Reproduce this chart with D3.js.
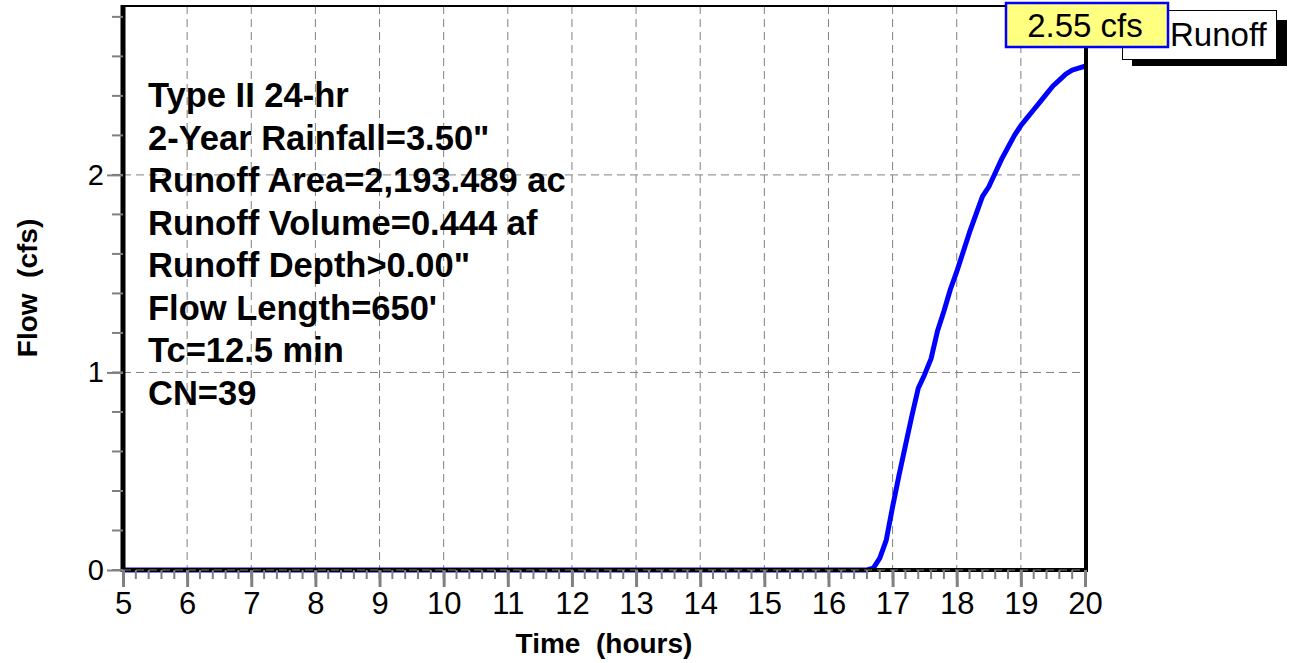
<!DOCTYPE html>
<html>
<head>
<meta charset="utf-8">
<script src="https://cdn.jsdelivr.net/npm/d3@7"></script>
<style>
  body { margin: 0; background: #fff; }
  svg { display: block; font-family: "Liberation Sans", Arial, sans-serif; }
  svg text { white-space: pre; }
</style>
</head>
<body>
<div id="vis"></div>
<script>
// hydrograph values
const hours = [5, 16.6, 16.7, 16.8, 16.9, 17.0, 17.1, 17.2, 17.3, 17.4, 17.5, 17.6, 17.7, 17.8, 17.9,
    18.0, 18.1, 18.2, 18.3, 18.4, 18.5, 18.6, 18.7, 18.8, 18.9, 19.0, 19.1, 19.2, 19.3, 19.4,
    19.5, 19.6, 19.7, 19.8, 19.9, 20.0];
const flow = [0, 0, 0.01, 0.06, 0.15, 0.32, 0.48, 0.63, 0.78, 0.92, 0.99, 1.07, 1.21, 1.31, 1.42,
    1.51, 1.61, 1.71, 1.80, 1.89, 1.94, 2.01, 2.08, 2.14, 2.20, 2.25, 2.29, 2.33, 2.37, 2.41,
    2.45, 2.48, 2.51, 2.53, 2.54, 2.55];
const xTicks = d3.range(5, 21);
const yTicks = [0, 1, 2];
const infoLines = [
    'Type II 24-hr',
    '2-Year Rainfall=3.50"',
    'Runoff Area=2,193.489 ac',
    'Runoff Volume=0.444 af',
    'Runoff Depth>0.00"',
    "Flow Length=650'",
    'Tc=12.5 min',
    'CN=39'
];
const peakLabel = '2.55 cfs';
const seriesName = 'Runoff';

const width = 1291;
const height = 663;
const margin = { top: 6, right: 206, bottom: 93, left: 123 };
const font = 'Liberation Sans, Arial, sans-serif';

const x = d3.scaleLinear()
    .domain([5, 20])
    .range([margin.left, width - margin.right]);

const y = d3.scaleLinear()
    .domain([0, 2.855])
    .range([height - margin.bottom, margin.top]);

const svg = d3.select('#vis')
    .append('svg')
    .attr('width', width)
    .attr('height', height);

const grey = '#808080';
const dash = '8,5';

// grid
svg.append('g')
    .selectAll('line')
    .data(xTicks.slice(1, -1))
    .join('line')
    .attr('x1', d => x(d)).attr('x2', d => x(d))
    .attr('y1', y.range()[1]).attr('y2', y(0))
    .attr('stroke', grey)
    .attr('stroke-dasharray', dash);

svg.append('g')
    .selectAll('line')
    .data(yTicks.slice(1))
    .join('line')
    .attr('x1', x(5)).attr('x2', x(20))
    .attr('y1', d => y(d)).attr('y2', d => y(d))
    .attr('stroke', grey)
    .attr('stroke-dasharray', dash);

// runoff line
const line = d3.line()
    .x((d, i) => x(hours[i]))
    .y(d => y(d));

svg.append('path')
    .datum(flow)
    .attr('fill', 'none')
    .attr('stroke', '#0000ff')
    .attr('stroke-width', 5)
    .attr('stroke-linejoin', 'round')
    .attr('d', line);

// frame
const x0 = x(5), x1 = x(20), yb = y(0), yt = y.range()[1];
svg.append('line').attr('x1', x0).attr('x2', x1 + 2).attr('y1', yt).attr('y2', yt)
    .attr('stroke', 'black').attr('stroke-width', 2);
svg.append('line').attr('x1', x0).attr('x2', x0).attr('y1', yt - 1).attr('y2', yb + 2)
    .attr('stroke', 'black').attr('stroke-width', 5);
svg.append('line').attr('x1', x1 + 1).attr('x2', x1 + 1).attr('y1', yt).attr('y2', yb + 2)
    .attr('stroke', 'black').attr('stroke-width', 4);
svg.append('line').attr('x1', x0).attr('x2', x1 + 3).attr('y1', yb).attr('y2', yb)
    .attr('stroke', 'black').attr('stroke-width', 4);
svg.append('line').attr('x1', x0).attr('x2', x1).attr('y1', yb).attr('y2', yb)
    .attr('stroke', grey).attr('stroke-dasharray', dash);

// minor ticks
svg.append('g')
    .selectAll('line')
    .data(d3.range(5, 20.01, 0.2))
    .join('line')
    .attr('x1', d => x(d)).attr('x2', d => x(d))
    .attr('y1', yb).attr('y2', yb + 9)
    .attr('stroke', grey).attr('stroke-width', 2);

svg.append('g')
    .selectAll('line')
    .data(d3.range(0, 2.81, 0.2))
    .join('line')
    .attr('x1', x0 - 11).attr('x2', x0)
    .attr('y1', d => y(d)).attr('y2', d => y(d))
    .attr('stroke', grey).attr('stroke-width', 2);

// major ticks and labels
svg.append('g')
    .attr('transform', `translate(0, ${yb})`)
    .call(d3.axisBottom(x).tickValues(xTicks).tickFormat(d3.format('d')).tickSize(17).tickPadding(5))
    .call(g => g.select('.domain').remove())
    .call(g => g.selectAll('.tick line').attr('stroke', grey).attr('stroke-width', 3))
    .call(g => g.selectAll('.tick text')
        .attr('fill', 'black')
        .attr('font-size', '31px')
        .attr('font-family', font));

svg.append('g')
    .attr('transform', `translate(${x0}, 0)`)
    .call(d3.axisLeft(y).tickValues(yTicks).tickFormat(d3.format('d')).tickSize(16).tickPadding(3))
    .call(g => g.select('.domain').remove())
    .call(g => g.selectAll('.tick line').attr('stroke', grey).attr('stroke-width', 2))
    .call(g => g.selectAll('.tick text')
        .attr('fill', 'black')
        .attr('font-size', '29px')
        .attr('font-family', font));

// axis titles
svg.append('text')
    .attr('x', (x0 + x1) / 2)
    .attr('y', 653)
    .attr('text-anchor', 'middle')
    .attr('font-family', font)
    .attr('font-size', '28px')
    .attr('font-weight', 'bold')
    .text('Time  (hours)');

svg.append('text')
    .attr('transform', `translate(37, ${(yt + yb) / 2}) rotate(-90)`)
    .attr('text-anchor', 'middle')
    .attr('font-family', font)
    .attr('font-size', '28px')
    .attr('font-weight', 'bold')
    .text('Flow  (cfs)');

// info block
svg.append('g')
    .selectAll('text')
    .data(infoLines)
    .join('text')
    .attr('x', 148)
    .attr('y', (d, i) => 107 + i * 42.5)
    .attr('font-family', font)
    .attr('font-size', '34.5px')
    .attr('font-weight', 'bold')
    .attr('fill', 'black')
    .text(d => d);

// legend box with shadow
svg.append('rect')
    .attr('x', 1132).attr('y', 20).attr('width', 155).attr('height', 46)
    .attr('fill', 'black');
svg.append('rect')
    .attr('x', 1122.5).attr('y', 10.5).attr('width', 154).attr('height', 49)
    .attr('fill', 'white').attr('stroke', 'black').attr('stroke-width', 1);
svg.append('text')
    .attr('x', 1170).attr('y', 46)
    .attr('font-family', font)
    .attr('font-size', '33px')
    .text(seriesName);

// peak value label
svg.append('rect')
    .attr('x', 1006).attr('y', 3).attr('width', 162).attr('height', 44)
    .attr('fill', '#ffff80').attr('stroke', '#0000ff').attr('stroke-width', 2.5);
svg.append('text')
    .attr('x', 1085).attr('y', 37)
    .attr('text-anchor', 'middle')
    .attr('font-family', font)
    .attr('font-size', '33px')
    .text(peakLabel);
</script>
</body>
</html>
